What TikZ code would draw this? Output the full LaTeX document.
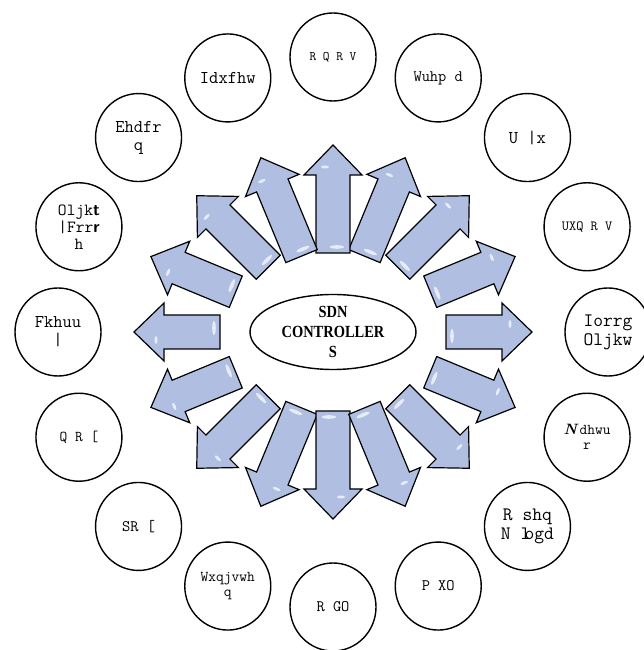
\documentclass[tikz,border=0pt]{standalone}
\usepackage{fontspec}
\usetikzlibrary{shapes.geometric, calc}
\newfontfamily\ctrlfont{Liberation Serif}[FakeStretch=0.85]
\definecolor{spokeblue}{RGB}{176,191,225}

\begin{document}
\begin{tikzpicture}[
    x=1pt, y=1pt,
    every node/.style={font=\ttfamily},
    plat/.style={ellipse, draw, line width=1.4pt, minimum width=86pt, minimum height=88pt, inner sep=0pt, align=center},
    fs/.style={font=\ttfamily\fontsize{#1}{#1}\selectfont},
    spoke/.style={fill=spokeblue, draw=black, line width=1.2pt, line join=miter},
    shine/.style={fill=white, opacity=0.7}
]
\useasboundingbox (0,0) rectangle (644,650);

% Centre
\node[ellipse, draw, line width=1.4pt, minimum width=166pt, minimum height=75pt,
      inner xsep=0pt, inner ysep=-3pt, align=center,
      font=\ctrlfont\bfseries\fontsize{17}{20}\selectfont] (ctrl) at (333,318) {SDN\\CONTROLLER\\S};

% Block arrows, bases on an inner ellipse, tips on an outer one
\foreach \a in {0,22.5,...,337.5}{
  \pgfmathsetmacro\rb{10*11.3*7.9/sqrt((7.9*cos(\a))^2+(11.3*sin(\a))^2)}
  \pgfmathsetmacro\rt{10*19.9*18.7/sqrt((18.7*cos(\a))^2+(19.9*sin(\a))^2)}
  \pgfmathsetmacro\len{\rt-\rb}
  \pgfmathsetmacro\hd{\len-30}
  \begin{scope}[shift={(ctrl.center)}, rotate=\a, xshift=\rb]
    \draw[spoke] (0,-17) -- (\hd,-17) -- (\hd,-29) -- (\len,0) -- (\hd,29) -- (\hd,17) -- (0,17) -- cycle;
    \fill[shine] (6,-4) ellipse (1.8 and 7);
    \fill[shine] (\len-22,8) ellipse (1.5 and 4);
  \end{scope}
}

% Ring of controllers
\foreach \sz/\txt [count=\i from 0] in {
    19/{Iorrg\\Oljkw},
    14/{UXQ R V},
    18/{U |x},
    16/{Wuhp d},
    13/{R Q R V},
    18/{Idxfhw},
    18/{Ehdfr\\q},
    17/{Oljk{\sffamily\bfseries t}\\|Frr{\sffamily\bfseries r}\\h},
    18/{Fkhuu\\|},
    15/{Q R [},
    16/{SR [},
    15/{Wxqjvwh\\q},
    16/{R GO},
    16/{P XO},
    19/{R shq\\N l\kern-.3em ogd},
    15/{{\rmfamily\bfseries\itshape N}\,dhwu\\r}}{
  \pgfmathsetmacro\ang{22.5*\i}
  \node[plat, fs=\sz] (p\i) at ([shift={(\ang:275)}]ctrl.center) {\txt};
}
\end{tikzpicture}
\end{document}
